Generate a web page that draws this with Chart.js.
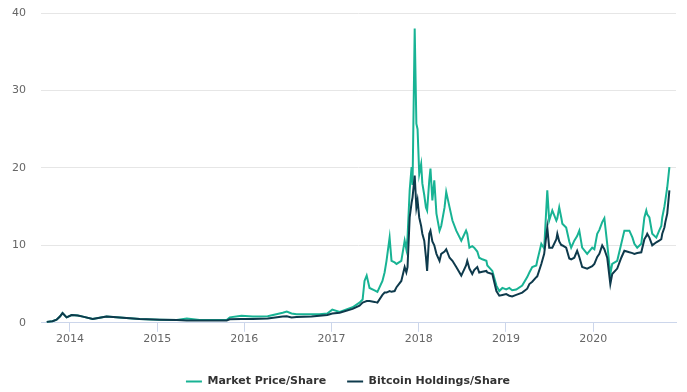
<!DOCTYPE html>
<html>
<head>
<meta charset="utf-8">
<script src="https://cdn.jsdelivr.net/npm/chart.js@4"></script>
<style>
    html, body { margin: 0; padding: 0; background: #fff; }
    #wrap { width: 687px; height: 392px; }
</style>
</head>
<body>
<div id="wrap"><canvas id="chart" width="687" height="392"></canvas></div>
<script>
/*
Market price vs bitcoin holdings per share
*/

// data
const dates = [
    "2013-09-26", "2013-10-20", "2013-11-06", "2013-11-20", "2013-12-01", "2013-12-18",
    "2014-01-08", "2014-02-03", "2014-02-24", "2014-04-06", "2014-06-03", "2014-07-28",
    "2014-10-20", "2015-01-12", "2015-03-24", "2015-05-05", "2015-06-28", "2015-10-19",
    "2015-11-01", "2015-12-20", "2016-02-05", "2016-04-08", "2016-06-10", "2016-06-27",
    "2016-07-17", "2016-08-07", "2016-10-09", "2016-11-11", "2016-12-14", "2017-01-04",
    "2017-02-04", "2017-03-30", "2017-04-28", "2017-05-11", "2017-05-19", "2017-05-28",
    "2017-06-09", "2017-06-30", "2017-07-12", "2017-08-02", "2017-08-11", "2017-08-19",
    "2017-09-01", "2017-09-09", "2017-09-22", "2017-09-30", "2017-10-20", "2017-11-03",
    "2017-11-10", "2017-11-15", "2017-11-24", "2017-12-02", "2017-12-06", "2017-12-15",
    "2017-12-22", "2017-12-27", "2018-01-03", "2018-01-11", "2018-01-16", "2018-01-24",
    "2018-01-31", "2018-02-05", "2018-02-14", "2018-02-19", "2018-02-27", "2018-03-07",
    "2018-03-16", "2018-03-29", "2018-04-05", "2018-04-19", "2018-04-26", "2018-05-10",
    "2018-05-22", "2018-06-07", "2018-06-28", "2018-07-18", "2018-07-23", "2018-08-01",
    "2018-08-13", "2018-08-21", "2018-09-03", "2018-09-11", "2018-09-24", "2018-10-11",
    "2018-10-15", "2018-11-05", "2018-11-22", "2018-12-04", "2018-12-17", "2019-01-02",
    "2019-01-15", "2019-01-27", "2019-02-13", "2019-03-10", "2019-03-31", "2019-04-09",
    "2019-04-21", "2019-05-08", "2019-05-12", "2019-05-29", "2019-06-10", "2019-06-23",
    "2019-07-01", "2019-07-14", "2019-07-31", "2019-08-04", "2019-08-12", "2019-08-21",
    "2019-08-25", "2019-09-10", "2019-09-23", "2019-10-01", "2019-10-14", "2019-10-26",
    "2019-11-04", "2019-11-16", "2019-12-07", "2019-12-28", "2020-01-06", "2020-01-18",
    "2020-01-27", "2020-02-08", "2020-02-17", "2020-02-29", "2020-03-13", "2020-03-21",
    "2020-04-11", "2020-04-28", "2020-05-11", "2020-06-01", "2020-06-14", "2020-06-22",
    "2020-07-04", "2020-07-21", "2020-08-03", "2020-08-11", "2020-08-15", "2020-08-24",
    "2020-09-05", "2020-09-22", "2020-10-04", "2020-10-13", "2020-10-17", "2020-10-26",
    "2020-10-30", "2020-11-07", "2020-11-16"
];

const marketPrice = [
    0.1, 0.2, 0.4, 0.8, 1.25, 0.7,
    1.0, 0.95, 0.8, 0.5, 0.8, 0.7,
    0.5, 0.4, 0.35, 0.55, 0.35, 0.35,
    0.7, 0.9, 0.8, 0.85, 1.3, 1.45,
    1.2, 1.1, 1.1, 1.1, 1.2, 1.7,
    1.4, 2.0, 2.6, 3.0, 5.4, 6.1,
    4.5, 4.2, 4.0, 5.4, 6.5, 8.0,
    11.0, 8.0, 7.8, 7.6, 8.0, 10.6,
    9.5, 11.0, 17.1, 20.1, 17.8, 38.0,
    25.7, 25.0, 19.2, 20.5, 18.0, 16.5,
    14.9, 14.5, 18.4, 19.9, 15.8, 18.4,
    14.1, 11.9, 12.5, 14.9, 16.9, 14.9,
    13.2, 11.9, 10.6, 11.9, 11.5, 9.7,
    9.9, 9.7, 9.2, 8.4, 8.2, 8.0,
    7.4, 6.7, 4.8, 4.1, 4.5, 4.3,
    4.5, 4.2, 4.3, 4.8, 5.9, 6.5,
    7.2, 7.4, 8.0, 10.2, 9.6, 17.1,
    13.2, 14.5, 13.2, 13.5, 14.9, 13.5,
    12.8, 12.3, 10.5, 9.7, 10.6, 11.2,
    11.9, 9.7, 8.9, 9.7, 9.5, 11.5,
    12.0, 13.0, 13.5, 10.2, 6.3, 7.6,
    8.0, 10.2, 11.9, 11.9, 11.0, 10.2,
    9.7, 10.2, 13.6, 14.5, 14.0, 13.6,
    11.5, 11.0, 11.9, 12.5, 13.6, 15.0,
    15.8, 17.5, 20.1
];

const holdings = [
    0.1, 0.2, 0.4, 0.8, 1.25, 0.7,
    1.0, 0.95, 0.8, 0.5, 0.8, 0.7,
    0.5, 0.4, 0.35, 0.3, 0.3, 0.3,
    0.45, 0.5, 0.5, 0.55, 0.8, 0.85,
    0.7, 0.75, 0.8, 0.9, 1.0, 1.2,
    1.3, 1.8, 2.2, 2.6, 2.7, 2.8,
    2.8, 2.7, 2.6, 3.6, 3.9, 3.9,
    4.1, 4.0, 4.1, 4.6, 5.4, 7.2,
    6.5, 7.2, 13.6, 15.5, 16.2, 19.0,
    14.9, 15.8, 13.6, 12.5, 11.5, 10.6,
    8.5, 6.7, 11.5, 11.9, 10.5, 10.0,
    8.9, 8.0, 8.9, 9.2, 9.5, 8.4,
    8.0, 7.2, 6.1, 7.4, 8.0, 7.0,
    6.3, 6.8, 7.2, 6.5, 6.6, 6.7,
    6.5, 6.3, 4.1, 3.5, 3.6, 3.7,
    3.5, 3.4, 3.6, 3.9, 4.4, 5.0,
    5.3, 5.9, 6.0, 7.6, 8.9, 12.3,
    9.7, 9.7, 10.8, 11.5, 10.5, 10.0,
    10.0, 9.7, 8.3, 8.2, 8.4, 9.3,
    8.5, 7.2, 7.0, 7.3, 7.6, 8.5,
    8.9, 10.0, 9.5, 8.4, 5.0, 6.3,
    7.0, 8.4, 9.3, 9.1, 9.0, 8.9,
    9.0, 9.1, 10.8, 11.2, 11.5, 11.0,
    10.0, 10.4, 10.6, 10.8, 11.5, 12.3,
    13.0, 14.1, 17.1
];

const yearTicks = [2014, 2015, 2016, 2017, 2018, 2019, 2020];
const yTicks = [0, 10, 20, 30, 40];

// "2017-12-15" -> 2017.95
function toYear(str) {
    const d = new Date(str + "T00:00:00Z");
    const y = d.getUTCFullYear();
    const start = Date.UTC(y, 0, 1);
    const end = Date.UTC(y + 1, 0, 1);
    return y + (d.getTime() - start) / (end - start);
}

function points(values) {
    return dates.map((d, i) => ({ x: toYear(d), y: values[i] }));
}

// legend is centred on the whole canvas in the original, nudge it right
const legendShift = {
    id: 'legendShift',
    afterLayout(chart) {
        chart.legend.left += 7;
        chart.legend.right += 7;
    }
};

function displayChart() {
    const ctx = document.getElementById("chart");

    new Chart(ctx, {
        type: 'line',
        data: {
            datasets: [{
                label: 'Bitcoin Holdings/Share',
                data: points(holdings),
                borderColor: '#0e3a4c',
                backgroundColor: '#0e3a4c',
                borderWidth: 2,
                pointRadius: 0,
                tension: 0
            }, {
                label: 'Market Price/Share',
                data: points(marketPrice),
                borderColor: '#18b394',
                backgroundColor: '#18b394',
                borderWidth: 2,
                pointRadius: 0,
                tension: 0
            }]
        },
        options: {
            responsive: false,
            animation: false,
            layout: {
                padding: { left: 6, right: 11, top: 13, bottom: -5 }
            },
            scales: {
                x: {
                    type: 'linear',
                    min: 2013.668,
                    max: 2020.95,
                    afterBuildTicks: scale => {
                        scale.ticks = yearTicks.map(v => ({ value: v }));
                    },
                    afterFit: scale => {
                        scale.height += 8;
                    },
                    grid: {
                        drawOnChartArea: false,
                        drawTicks: true,
                        tickLength: 9,
                        color: '#ccd6eb'
                    },
                    border: { color: '#ccd6eb' },
                    ticks: {
                        padding: 1,
                        color: '#666',
                        font: { family: 'DejaVu Sans', size: 11 },
                        maxRotation: 0,
                        callback: v => String(v)
                    }
                },
                y: {
                    min: 0,
                    max: 40,
                    afterBuildTicks: scale => {
                        scale.ticks = yTicks.map(v => ({ value: v }));
                    },
                    afterFit: scale => {
                        scale.width = 35;
                        scale.paddingTop = 0;
                        scale.paddingBottom = 0;
                    },
                    grid: {
                        color: '#e6e6e6',
                        drawTicks: false
                    },
                    border: { display: false },
                    ticks: {
                        padding: 15,
                        color: '#666',
                        font: { family: 'DejaVu Sans', size: 11 }
                    }
                }
            },
            plugins: {
                tooltip: { enabled: false },
                legend: {
                    position: 'bottom',
                    labels: {
                        usePointStyle: true,
                        pointStyle: 'line',
                        pointStyleWidth: 16,
                        padding: 21,
                        color: '#333',
                        font: { family: 'DejaVu Sans', size: 11, weight: 'bold' },
                        sort: (a, b) => b.datasetIndex - a.datasetIndex
                    }
                }
            }
        },
        plugins: [legendShift]
    });
}

displayChart();
</script>
</body>
</html>
